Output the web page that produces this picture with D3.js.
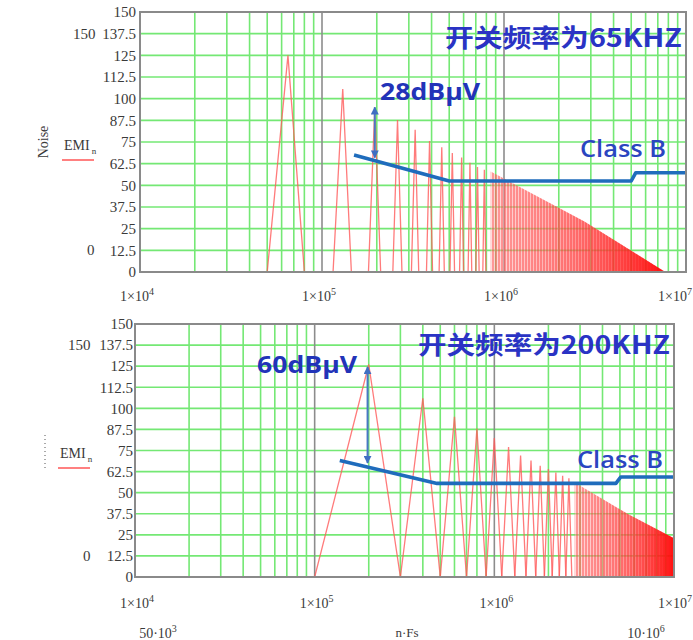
<!DOCTYPE html>
<html>
<head>
  <meta charset="utf-8">
  <script src="https://d3js.org/d3.v7.min.js"></script>
  <style>
    body { margin: 0; background: #fff; }
    svg text { font-family: "Liberation Serif", "DejaVu Serif", serif; }
  </style>
</head>
<body>
<div id="chart"></div>
<script>
// axis values
var yTicks = [0, 12.5, 25, 37.5, 50, 62.5, 75, 87.5, 100, 112.5, 125, 137.5, 150];
var decades = [1e4, 1e5, 1e6, 1e7];
var decadeExp = ["4", "5", "6", "7"];

// panel 1: Fs = 65 kHz, separate harmonics
var topPeakFreq = [65e3, 130e3, 195e3, 260e3, 325e3, 390e3, 455e3, 520e3, 585e3, 650e3, 715e3, 780e3];
var topPeakLevel = [125, 105.6, 95, 87.7, 82, 75.5, 72, 68.7, 66, 63, 60.6, 59];
// dense harmonic tail (envelope)
var topTailFreq = [845e3, 2.78e6, 7.7e6];
var topTailLevel = [58, 29, 0];
// Class B limit as drawn
var topLimitFreq = [150e3, 500e3, 5.0e6, 5.3e6, 1e7];
var topLimitLevel = [67.5, 52.5, 52.5, 57.3, 57.3];

// panel 2: Fs = 200 kHz
var botPeakFreq = [200e3, 400e3, 600e3, 800e3, 1.0e6, 1.2e6, 1.4e6, 1.6e6, 1.8e6, 2.0e6, 2.2e6, 2.4e6, 2.6e6];
var botPeakLevel = [126, 106, 95, 88, 82.4, 77, 72, 69, 66, 64, 62, 60, 58.5];
var botTailFreq = [2.8e6, 5.6e6, 1e7];
var botTailLevel = [56, 37, 23];
var botLimitFreq = [138e3, 480e3, 4.75e6, 5.05e6, 1e7];
var botLimitLevel = [69, 55.5, 55.5, 59.3, 59.3];

var svg = d3.select("#chart").append("svg")
    .attr("width", 693)
    .attr("height", 640);

var defs = svg.append("defs");
var hatch = defs.append("pattern")
    .attr("id", "hatch")
    .attr("patternUnits", "userSpaceOnUse")
    .attr("width", 3).attr("height", 10);
hatch.append("line")
    .attr("x1", 1).attr("x2", 1).attr("y1", 0).attr("y2", 10)
    .attr("stroke", "#ff1a1a").attr("stroke-width", 1);
var grad = defs.append("linearGradient").attr("id", "tailGrad");
grad.append("stop").attr("offset", "0%").attr("stop-color", "#ffb0b0").attr("stop-opacity", 0.45);
grad.append("stop").attr("offset", "45%").attr("stop-color", "#ff6a6a").attr("stop-opacity", 0.65);
grad.append("stop").attr("offset", "100%").attr("stop-color", "#ff0000").attr("stop-opacity", 0.95);

var arrow = defs.append("marker")
    .attr("id", "arr")
    .attr("viewBox", "0 0 10 10")
    .attr("refX", 9).attr("refY", 5)
    .attr("markerWidth", 4).attr("markerHeight", 4)
    .attr("orient", "auto-start-reverse");
arrow.append("path").attr("d", "M0,0L10,5L0,10z").attr("fill", "#3f6fc2");

function drawPanel(p) {
  var x = d3.scaleLog().domain([1e4, 1e7]).range([p.left, p.right]);
  var y = d3.scaleLinear().domain([0, 150]).range([p.bottom, p.top]);
  var g = svg.append("g");

  var clipId = "clip" + p.id;
  defs.append("clipPath").attr("id", clipId)
    .append("rect")
      .attr("x", p.left).attr("y", p.top)
      .attr("width", p.right - p.left).attr("height", p.bottom - p.top);

  // grid
  g.selectAll(".hgrid")
    .data(yTicks.slice(1, -1))
    .enter().append("line")
      .attr("x1", p.left).attr("x2", p.right)
      .attr("y1", function(d) { return y(d); })
      .attr("y2", function(d) { return y(d); })
      .attr("stroke", "#74e874").attr("stroke-width", 1.6);

  var minor = x.ticks().filter(function(d) {
    var e = Math.log10(d);
    return Math.abs(e - Math.round(e)) > 1e-6;
  });
  g.selectAll(".vgrid")
    .data(minor)
    .enter().append("line")
      .attr("x1", function(d) { return x(d); })
      .attr("x2", function(d) { return x(d); })
      .attr("y1", p.top).attr("y2", p.bottom)
      .attr("stroke", "#74e874").attr("stroke-width", 1.6);

  g.selectAll(".dgrid")
    .data(decades.slice(1, -1))
    .enter().append("line")
      .attr("x1", function(d) { return x(d); })
      .attr("x2", function(d) { return x(d); })
      .attr("y1", p.top).attr("y2", p.bottom)
      .attr("stroke", "#8c8c8c").attr("stroke-width", 1.6);

  var plot = g.append("g").attr("clip-path", "url(#" + clipId + ")");

  // dense tail of harmonics
  var tail = p.tailFreq.map(function(f, i) { return [f, p.tailLevel[i]]; });
  var area = d3.area()
    .x(function(d) { return x(d[0]); })
    .y0(y(0))
    .y1(function(d) { return y(d[1]); });
  plot.append("path").datum(tail).attr("d", area).attr("fill", "url(#tailGrad)");
  plot.append("path").datum(tail).attr("d", area).attr("fill", "url(#hatch)").attr("opacity", 0.7);

  // separate harmonic spikes
  var line = d3.line()
    .x(function(d) { return x(d[0]); })
    .y(function(d) { return y(d[1]); });
  plot.selectAll(".spike")
    .data(p.peakFreq)
    .enter().append("path")
      .attr("d", function(f, i) {
        return line([[f - p.halfWidth, 0], [f, p.peakLevel[i]], [f + p.halfWidth, 0]]);
      })
      .attr("fill", "none")
      .attr("stroke", "#ff5a5a")
      .attr("stroke-opacity", 0.8)
      .attr("stroke-width", 1.3);

  // frame
  g.append("rect")
    .attr("x", p.left).attr("y", p.top)
    .attr("width", p.right - p.left).attr("height", p.bottom - p.top)
    .attr("fill", "none").attr("stroke", "#8a8a8a").attr("stroke-width", 2);

  // Class B limit
  var limit = p.limitFreq.map(function(f, i) { return [f, p.limitLevel[i]]; });
  plot.append("path").datum(limit)
    .attr("d", line)
    .attr("fill", "none")
    .attr("stroke", "#1f6cbc")
    .attr("stroke-width", 3.6)
    .attr("stroke-linejoin", "round");

  // dB margin arrow
  svg.append("line")
    .attr("x1", x(p.arrowFreq)).attr("x2", x(p.arrowFreq))
    .attr("y1", y(p.arrowFrom)).attr("y2", y(p.arrowTo))
    .attr("stroke", "#4a78c4").attr("stroke-width", 2)
    .attr("marker-start", "url(#arr)")
    .attr("marker-end", "url(#arr)");

  // y tick labels
  var yAxis = g.append("g")
    .attr("transform", "translate(" + p.left + ",0)")
    .call(d3.axisLeft(y).tickValues(yTicks).tickSize(0).tickPadding(p.pad)
      .tickFormat(function(d) { return d; }));
  yAxis.select(".domain").remove();
  yAxis.selectAll("text")
    .style("font-family", "Liberation Serif")
    .attr("font-size", 15)
    .attr("fill", "#3a3a3a");

  // x tick labels (the last one is kept inside the page)
  decades.forEach(function(d, i) {
    var last = i === decades.length - 1;
    var t = g.append("text")
      .attr("x", last ? 692 : x(d) + p.xLabelShift)
      .attr("y", p.xLabelY)
      .attr("text-anchor", last ? "end" : "middle")
      .attr("font-size", 14)
      .attr("fill", "#3a3a3a");
    t.append("tspan").text("1×10");
    t.append("tspan").attr("dy", -6).attr("font-size", 10).text(decadeExp[i]);
  });

  // Mathcad range markers
  g.append("text").attr("x", p.yMaxX).attr("y", y(137.5) + 5)
    .attr("font-size", 15).attr("fill", "#3a3a3a").text("150");
  g.append("text").attr("x", p.yMinX).attr("y", y(12.5) + 5)
    .attr("font-size", 15).attr("fill", "#3a3a3a").text("0");

  // legend
  var leg = g.append("text").attr("x", p.legX).attr("y", p.legY)
    .attr("font-size", 14).attr("fill", "#3a3a3a");
  leg.append("tspan").text("EMI");
  leg.append("tspan").attr("dy", 4).attr("font-size", 9).attr("dx", 2).text("n");
  g.append("line")
    .attr("x1", p.legX - 2).attr("x2", p.legX + 30)
    .attr("y1", p.legY + 10).attr("y2", p.legY + 10)
    .attr("stroke", "#ff8080").attr("stroke-width", 2);

  // annotations
  svg.append("text")
    .attr("x", p.titleX).attr("y", p.titleY)
    .style("font-family", "'Noto Sans CJK SC', 'Noto Sans', sans-serif")
    .style("font-weight", "bold")
    .attr("font-size", 25)
    .attr("fill", "#2a33c4")
    .attr("textLength", p.titleLen)
    .attr("lengthAdjust", "spacingAndGlyphs")
    .text(p.title);

  svg.append("text")
    .attr("x", p.dbX).attr("y", p.dbY)
    .style("font-family", "'Open Sans', sans-serif")
    .style("font-weight", "bold")
    .attr("font-size", 23)
    .attr("fill", "#2233b8")
    .attr("textLength", 100)
    .attr("lengthAdjust", "spacingAndGlyphs")
    .text(p.dbText);

  svg.append("text")
    .attr("x", p.classX).attr("y", p.classY)
    .style("font-family", "'Open Sans', sans-serif")
    .style("font-weight", "600")
    .attr("font-size", 23)
    .attr("fill", "#2b45c0")
    .attr("textLength", 86)
    .attr("lengthAdjust", "spacingAndGlyphs")
    .text("Class B");

  return { x: x, y: y, g: g };
}

var top1 = drawPanel({
  id: 1, left: 140, right: 686, top: 12, bottom: 272, pad: 4,
  peakFreq: topPeakFreq, peakLevel: topPeakLevel, halfWidth: 15e3,
  tailFreq: topTailFreq, tailLevel: topTailLevel,
  limitFreq: topLimitFreq, limitLevel: topLimitLevel,
  arrowFreq: 195e3, arrowFrom: 66, arrowTo: 95,
  xLabelY: 301, xLabelShift: -3,
  yMaxX: 73, yMinX: 87, legX: 64, legY: 150,
  title: "开关频率为65KHZ", titleX: 445, titleY: 47, titleLen: 237,
  dbText: "28dBµV", dbX: 380, dbY: 100,
  classX: 580, classY: 157
});

// axis title only on the upper panel
top1.g.append("text")
  .attr("transform", "translate(48,142)rotate(-90)")
  .attr("text-anchor", "middle")
  .attr("font-size", 14)
  .attr("fill", "#3a3a3a")
  .text("Noise");

var bot = drawPanel({
  id: 2, left: 135, right: 674, top: 324, bottom: 577, pad: 2,
  peakFreq: botPeakFreq, peakLevel: botPeakLevel, halfWidth: 100e3,
  tailFreq: botTailFreq, tailLevel: botTailLevel,
  limitFreq: botLimitFreq, limitLevel: botLimitLevel,
  arrowFreq: 197e3, arrowFrom: 67.6, arrowTo: 124.5,
  xLabelY: 608, xLabelShift: 2,
  yMaxX: 68, yMinX: 83, legX: 60, legY: 458,
  title: "开关频率为200KHZ", titleX: 418, titleY: 354, titleLen: 252,
  dbText: "60dBµV", dbX: 257, dbY: 373,
  classX: 577, classY: 468
});

// dotted legend marker and x range labels of the lower panel
bot.g.append("line")
  .attr("x1", 45).attr("x2", 45).attr("y1", 435).attr("y2", 468)
  .attr("stroke", "#555").attr("stroke-width", 1).attr("stroke-dasharray", "1,3");

var lo = bot.g.append("text").attr("x", 158).attr("y", 638)
  .attr("text-anchor", "middle").attr("font-size", 14).attr("fill", "#3a3a3a");
lo.append("tspan").text("50·10");
lo.append("tspan").attr("dy", -6).attr("font-size", 10).text("3");

bot.g.append("text").attr("x", 407).attr("y", 637)
  .attr("text-anchor", "middle").attr("font-size", 13).attr("fill", "#3a3a3a")
  .text("n·Fs");

var hi = bot.g.append("text").attr("x", 646).attr("y", 638)
  .attr("text-anchor", "middle").attr("font-size", 14).attr("fill", "#3a3a3a");
hi.append("tspan").text("10·10");
hi.append("tspan").attr("dy", -6).attr("font-size", 10).text("6");
</script>
</body>
</html>
